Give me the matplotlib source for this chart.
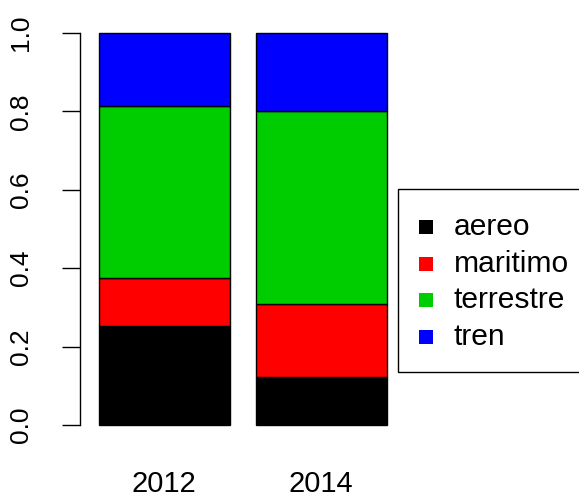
import matplotlib
matplotlib.use("Agg")
import matplotlib.pyplot as plt
from matplotlib.patches import Rectangle
import numpy as np

plt.rcParams['font.family'] = ['Liberation Sans', 'DejaVu Sans']

years = ["2012", "2014"]
categories = ["aereo", "maritimo", "terrestre", "tren"]
aereo = [0.253, 0.123]
maritimo = [0.123, 0.186]
terrestre = [0.438, 0.493]
tren = [0.186, 0.198]
series = [aereo, maritimo, terrestre, tren]
colors = ["#000000", "#FF0000", "#00CD00", "#0000FF"]

W, H = 579, 499
dpi = 100
fig = plt.figure(figsize=(W / dpi, H / dpi), dpi=dpi)

# axes placement in pixels
left_px, right_px, top_px, bot_px = 80, 398, 17.3, 440.7
ax = fig.add_axes([left_px / W, 1 - bot_px / H, (right_px - left_px) / W, (bot_px - top_px) / H])

x = np.array([0.7, 1.9])
bottom = np.zeros(len(years))
for vals, c in zip(series, colors):
    ax.bar(x, vals, width=1.0, bottom=bottom, color=c, edgecolor="black", linewidth=1.0)
    bottom += np.array(vals)

ax.set_xlim(0.0546, 2.488)
ax.set_ylim(-0.04, 1.04)
for s in ["top", "right", "bottom"]:
    ax.spines[s].set_visible(False)
ax.spines["left"].set_bounds(0, 1)
ax.spines["left"].set_linewidth(1.0)
ax.set_yticks([0, 0.2, 0.4, 0.6, 0.8, 1.0])
ax.set_yticklabels(["0.0", "0.2", "0.4", "0.6", "0.8", "1.0"], rotation=90, va="center")
ax.tick_params(axis="y", length=13, width=1.0, pad=21, labelsize=19)
ax.set_xticks(x)
ax.set_xticklabels(years)
ax.tick_params(axis="x", length=0, pad=21, labelsize=21)

# legend drawn in pixel coordinates of the figure
def fx(px):
    return px / W

def fy(py):
    return 1 - py / H

fig.add_artist(Rectangle((fx(398), fy(372)), fx(600) - fx(398), fy(189) - fy(372),
                         transform=fig.transFigure, facecolor="white", edgecolor="black",
                         linewidth=1.0, clip_on=False))
row_y = [227, 264, 300, 337]
for lab, c, yy in zip(categories, colors, row_y):
    fig.add_artist(Rectangle((fx(419), fy(yy + 7)), fx(14), 14 / H, transform=fig.transFigure,
                             facecolor=c, edgecolor="none"))
    fig.text(fx(454), fy(yy), lab, fontsize=21.6, va="center", ha="left")

fig.savefig("out.png", dpi=dpi)
